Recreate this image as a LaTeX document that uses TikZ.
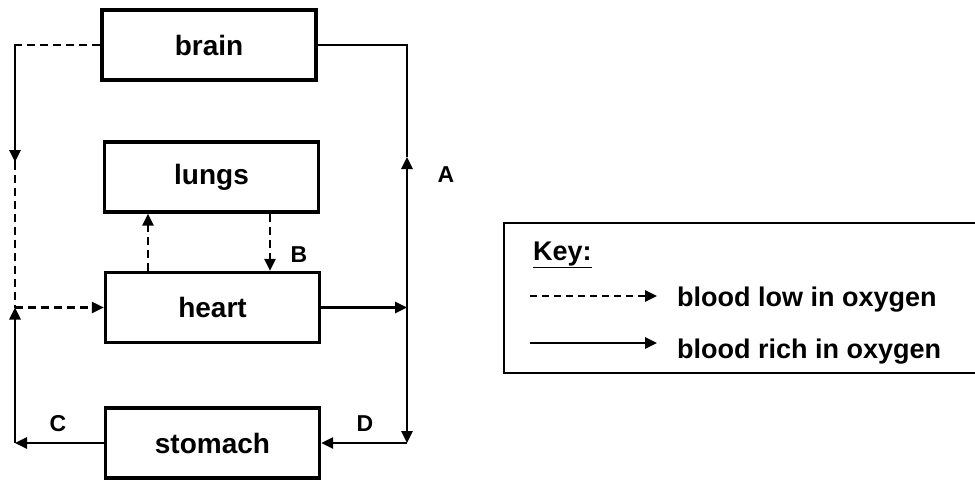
\documentclass[tikz,border=0pt]{standalone}
\usepackage{fontspec}
\setmainfont{Liberation Sans}
\usetikzlibrary{arrows.meta}
\begin{document}
\begin{tikzpicture}[x=1pt,y=-1pt,
  organ/.style={draw,line width=3.2pt,minimum width=214pt,minimum height=70pt,inner sep=0pt,
    font=\bfseries\fontsize{28}{32}\selectfont},
  conn/.style={line width=2.6pt},
  dsh/.style={conn,dash pattern=on 8pt off 5pt},
  tip/.style={-{Triangle[length=12pt,width=11pt]}},
  lab/.style={font=\bfseries\fontsize{23}{27}\selectfont,inner sep=0pt},
  keytxt/.style={font=\bfseries\fontsize{27}{31}\selectfont,anchor=base west,inner sep=0pt}]
\useasboundingbox (0,0) rectangle (975,480);
% organs
\node[organ] (brain) at (209,45) {brain};
\node[organ] (lungs) at (211.5,177) {lungs};
\node[organ] (heart) at (212.5,307.5) {heart};
\node[organ] (stomach) at (212.5,443) {stomach};
% corner points
\coordinate (tl) at (15,45);
\coordinate (dl) at (15,162);
\coordinate (ml) at (15,307.5);
\coordinate (bl) at (15,443);
\coordinate (tr) at (407,45);
\coordinate (ur) at (407,157);
\coordinate (mr) at (407,307.5);
\coordinate (br) at (407,443);
\coordinate (lx) at (148,0);
\coordinate (rx) at (270,0);
% low-oxygen (dashed)
\draw[dsh] (brain.west) -- (tl) -- (dl);
\draw[dsh,tip] (tl) -- (dl);
\draw[dsh] (dl) -- (ml);
\draw[dsh,tip] (ml) -- (heart.west);
\draw[dsh,tip] (lx |- heart.north) -- (lx |- lungs.south);
\draw[dsh,tip] (rx |- lungs.south) -- (rx |- heart.north);
% rich in oxygen (solid)
\draw[conn,tip] (heart.east) -- (mr);
\draw[conn,tip] (mr) -- (ur);
\draw[conn] (ur) -- (tr) -- (brain.east);
\draw[conn,tip] (mr) -- (br);
\draw[conn,tip] (br) -- (stomach.east);
\draw[conn,tip] (stomach.west) -- (bl);
\draw[conn,tip] (bl) -- (ml);
% labels
\node[lab] (A) at (446,175) {A};
\node[lab] (B) at (299,255) {B};
\node[lab] (C) at (58,424) {C};
\node[lab] (D) at (365,424) {D};
% key
\draw[line width=2.6pt] (976,223) -- (504,223) -- (504,373) -- (976,373);
\node[keytxt] (key) at (533,260) {\underline{Key:}};
\coordinate (k1a) at (530,296);
\coordinate (k1b) at (657,296);
\coordinate (k2a) at (530,343);
\coordinate (k2b) at (657,343);
\draw[conn,dash pattern=on 7pt off 5pt,tip] (k1a) -- (k1b);
\draw[conn,tip] (k2a) -- (k2b);
\node[keytxt] (low) at (677,306) {blood low in oxygen};
\node[keytxt] (rich) at (677,358) {blood rich in oxygen};
\end{tikzpicture}
\end{document}
